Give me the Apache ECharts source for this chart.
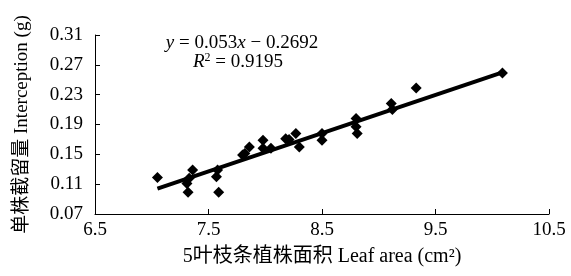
<!DOCTYPE html>
<html>
<head>
<meta charset="utf-8">
<script src="https://cdn.jsdelivr.net/npm/echarts@6/dist/echarts.min.js"></script>
<style>
  html, body { margin: 0; padding: 0; background: #fff; }
  #chart { width: 571px; height: 276px; }
</style>
</head>
<body>
<div id="chart"></div>
<script>
// leaf area (cm2) vs interception (g)
var leafArea = [7.05, 7.32, 7.31, 7.33, 7.36, 7.57, 7.59, 7.58, 7.80, 7.82, 7.86, 7.98, 7.98, 8.05,
  8.18, 8.21, 8.27, 8.30, 8.50, 8.50, 8.80, 8.81, 8.80, 9.11, 9.12, 9.33, 10.09];
var interception = [0.119, 0.099, 0.111, 0.118, 0.129, 0.120, 0.099, 0.129, 0.149, 0.151, 0.160, 0.169, 0.158, 0.158,
  0.171, 0.170, 0.178, 0.160, 0.178, 0.169, 0.198, 0.178, 0.187, 0.218, 0.210, 0.239, 0.259];
// ends of the fitted line
var fitX = [7.05, 10.09];
var fitY = [0.104, 0.260];

var xTicks = ['6.5', '7.5', '8.5', '9.5', '10.5'];
var yTicks = ['0.07', '0.11', '0.15', '0.19', '0.23', '0.27', '0.31'];

var serif = "'Liberation Serif', 'Noto Sans CJK SC', serif";

var points = [];
for (var i = 0; i < leafArea.length; i++) {
  points.push([leafArea[i], interception[i]]);
}
var fitLine = [];
for (var j = 0; j < fitX.length; j++) {
  fitLine.push([fitX[j], fitY[j]]);
}

var chart = echarts.init(document.getElementById('chart'), null, { renderer: 'canvas' });

var option = {
  animation: false,
  grid: { left: 95, right: 22, top: 35, bottom: 62, containLabel: false },
  xAxis: {
    type: 'value',
    min: 6.5,
    max: 10.5,
    interval: 1,
    name: '5叶枝条植株面积 Leaf area (cm²)',
    nameLocation: 'middle',
    nameGap: 33,
    nameTextStyle: { fontFamily: serif, fontSize: 20, color: '#000' },
    axisLine: { lineStyle: { color: '#000', width: 1 } },
    axisTick: { inside: true, length: 5, lineStyle: { color: '#000' } },
    axisLabel: {
      fontFamily: serif, fontSize: 19, color: '#000', margin: 7,
      formatter: function (v) { return xTicks[Math.round(v - 6.5)]; }
    },
    splitLine: { show: false }
  },
  yAxis: {
    type: 'value',
    min: 0.07,
    max: 0.31,
    interval: 0.04,
    name: '单株截留量 Interception (g)',
    nameLocation: 'middle',
    nameGap: 63,
    nameTextStyle: { fontFamily: serif, fontSize: 19, color: '#000' },
    axisLine: { show: true, lineStyle: { color: '#000', width: 1 } },
    axisTick: { inside: true, length: 5, lineStyle: { color: '#000' } },
    axisLabel: {
      fontFamily: serif, fontSize: 19, color: '#000', margin: 12,
      formatter: function (v) { return yTicks[Math.round((v - 0.07) / 0.04)]; }
    },
    splitLine: { show: false }
  },
  series: [
    {
      type: 'line',
      data: fitLine,
      symbol: 'none',
      lineStyle: { color: '#000', width: 4 },
      z: 2
    },
    {
      type: 'scatter',
      data: points,
      symbol: 'diamond',
      symbolSize: 11,
      itemStyle: { color: '#000', opacity: 1 },
      z: 3
    }
  ],
  graphic: [
    {
      type: 'text',
      x: 242,
      y: 43,
      style: {
        text: '{i|y} = 0.053{i|x} − 0.2692',
        font: "19px " + serif,
        fill: '#000',
        align: 'center',
        verticalAlign: 'middle',
        rich: { i: { fontStyle: 'italic', fontFamily: serif, fontSize: 19 } }
      }
    },
    {
      type: 'text',
      x: 238,
      y: 62,
      style: {
        text: '{i|R}{s|2} = 0.9195',
        font: "19px " + serif,
        fill: '#000',
        align: 'center',
        verticalAlign: 'middle',
        rich: {
          i: { fontStyle: 'italic', fontFamily: serif, fontSize: 19 },
          s: { fontFamily: serif, fontSize: 12, verticalAlign: 'top', padding: [0, 0, 9, 0] }
        }
      }
    }
  ]
};

chart.setOption(option);
</script>
</body>
</html>
